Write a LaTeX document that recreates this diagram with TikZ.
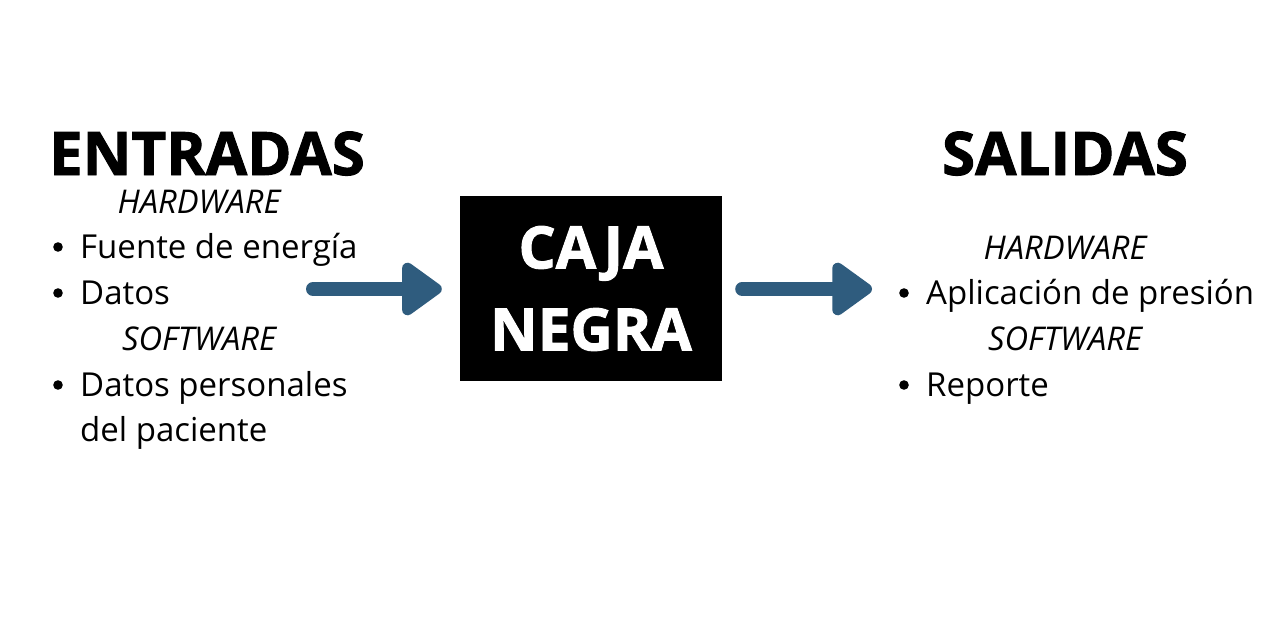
\documentclass[tikz,border=0pt]{standalone}
\usepackage{fontspec}
\setmainfont{Open Sans}
\newfontfamily\heavyfont{Open Sans}[BoldFeatures={FakeBold=1.6}]
\usetikzlibrary{arrows.meta,positioning}
\definecolor{flowblue}{RGB}{47,92,126}
\tikzset{
  head/.style={font=\heavyfont\bfseries\fontsize{60}{70}\selectfont,inner sep=0pt,anchor=base},
  sub/.style={font=\fontsize{32.7}{40}\selectfont\itshape,inner sep=0pt,anchor=base},
  item/.style={font=\fontsize{33}{40}\selectfont,inner sep=0pt,anchor=base west},
  flow/.style={flowblue,line width=14pt,line cap=round,
    -{Triangle[length=44pt,width=60pt,round]}}
}
\begin{document}
\begin{tikzpicture}[x=1pt,y=-1pt]
  \useasboundingbox[fill=white] (0,0) rectangle (1280,616);
  % caja negra
  \node[fill=black,minimum width=262pt,minimum height=185pt,inner sep=0pt,
    text=white,align=center,font=\heavyfont\bfseries\fontsize{58.5}{82}\selectfont]
    (caja) at (591,288.5) {CAJA\\NEGRA};
  % entradas
  \node[head] (ent) at (207,175) {ENTRADAS};
  \node[sub] (hwL) at (199,213) {HARDWARE};
  \node[sub] (swL) at (199,350) {SOFTWARE};
  \foreach \y/\t/\b in {258/Fuente de energía/1,304/Datos/1,396/Datos personales/1,441/del paciente/0}{
    \node[item] at (80,\y) {\t};
    \ifnum\b=1 \fill (58,\y-11) circle (4.8pt); \fi
  }
  % salidas
  \node[head] (sal) at (1065,175) {SALIDAS};
  \node[sub] (hwR) at (1065,259) {HARDWARE};
  \node[sub] (swR) at (1065,350) {SOFTWARE};
  \foreach \y/\t in {304/Aplicación de presión,396/Reporte}{
    \node[item] at (926,\y) {\t};
    \fill (904,\y-11) circle (4.8pt);
  }
  % flechas
  \coordinate (inL) at (313,289);
  \coordinate (outR) at (872,289);
  \draw[flow] (inL) -- ([xshift=-18pt]caja.west |- inL);
  \draw[flow] ([xshift=20pt]caja.east |- outR) -- (outR);
\end{tikzpicture}
\end{document}
